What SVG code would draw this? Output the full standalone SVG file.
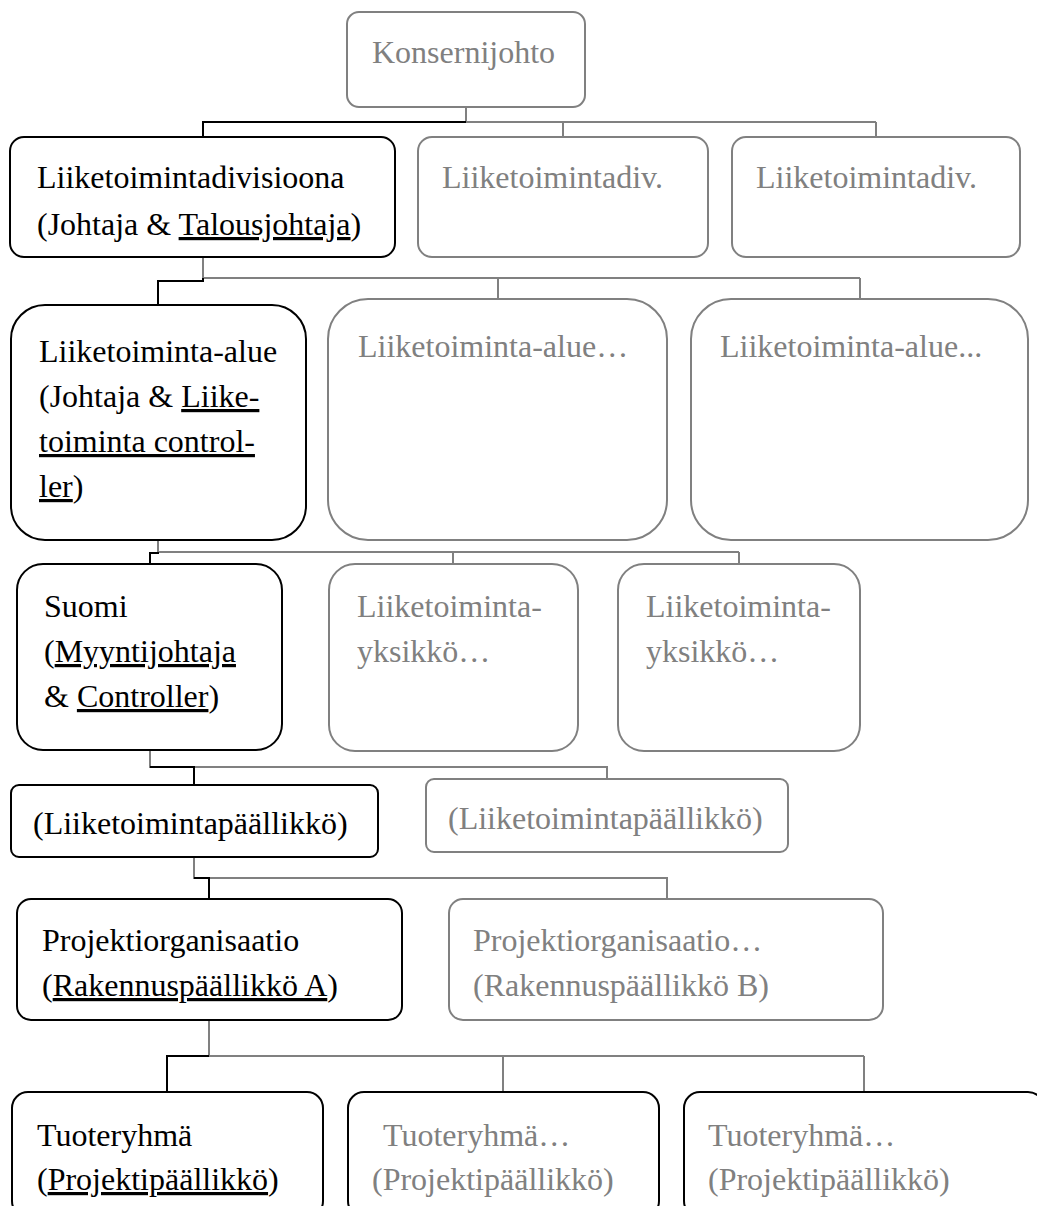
<svg xmlns="http://www.w3.org/2000/svg" width="1037" height="1206" viewBox="0 0 1037 1206">
  <style>
    .on { fill: #ffffff; stroke: #000000; stroke-width: 2; }
    .off { fill: #ffffff; stroke: #808080; stroke-width: 2; }
    .t-on { fill: #000000; }
    .t-off { fill: #808080; }
    .u { text-decoration: underline; }
    .bus { fill: none; stroke: #808080; stroke-width: 2; }
    .path { fill: none; stroke: #000000; stroke-width: 2; }
  </style>

  <rect width="1037" height="1206" fill="#ffffff"/>

  <!-- connectors: grey buses first, highlighted chain on top -->
  <g id="connectors">
    <path class="bus" d="M466,107 V122 H876 M563,122 V137 M876,122 V137"/>
    <path class="path" d="M466,122 H203 V137"/>

    <path class="bus" d="M203,257 V278 H860 M498,278 V299 M860,278 V299"/>
    <path class="path" d="M203,278 V281 H158 V305"/>

    <path class="bus" d="M158,540 V552 H739 M453,552 V564 M739,552 V564"/>
    <path class="path" d="M158,552 V553 H150 V564"/>

    <path class="bus" d="M150,750 V767 H607 V779"/>
    <path class="path" d="M150,767 H194 V785"/>

    <path class="bus" d="M194,857 V878 H667 V899"/>
    <path class="path" d="M194,878 H209 V899"/>

    <path class="bus" d="M209,1020 V1056 H864 M503,1056 V1092 M864,1056 V1092"/>
    <path class="path" d="M209,1056 H167 V1092"/>
  </g>

  <g font-family="'Liberation Serif', serif" font-size="32">
  <!-- level 1 -->
  <g id="konsernijohto">
    <rect class="off" x="347" y="12" width="238" height="95" rx="12"/>
    <text class="t-off" x="372" y="63">Konsernijohto</text>
  </g>

  <!-- level 2 -->
  <g id="divisioona">
    <rect class="on" x="10" y="137" width="385" height="120" rx="14"/>
    <text class="t-on" x="37" y="188">Liiketoimintadivisioona</text>
    <text class="t-on" x="37" y="235">(Johtaja &amp; <tspan class="u">Talousjohtaja</tspan>)</text>
  </g>
  <g id="div-2">
    <rect class="off" x="418" y="137" width="290" height="120" rx="14"/>
    <text class="t-off" x="442" y="188">Liiketoimintadiv.</text>
  </g>
  <g id="div-3">
    <rect class="off" x="732" y="137" width="288" height="120" rx="14"/>
    <text class="t-off" x="756" y="188">Liiketoimintadiv.</text>
  </g>

  <!-- level 3 -->
  <g id="alue">
    <rect class="on" x="11" y="305" width="295" height="235" rx="34"/>
    <text class="t-on" x="39" y="362">Liiketoiminta-alue</text>
    <text class="t-on" x="39" y="407">(Johtaja &amp; <tspan class="u">Liike-</tspan></text>
    <text class="t-on" x="39" y="452"><tspan class="u">toiminta control-</tspan></text>
    <text class="t-on" x="39" y="497"><tspan class="u">ler</tspan>)</text>
  </g>
  <g id="alue-2">
    <rect class="off" x="328" y="299" width="339" height="241" rx="40"/>
    <text class="t-off" x="358" y="357">Liiketoiminta-alue…</text>
  </g>
  <g id="alue-3">
    <rect class="off" x="691" y="299" width="337" height="241" rx="40"/>
    <text class="t-off" x="720" y="357">Liiketoiminta-alue...</text>
  </g>

  <!-- level 4 -->
  <g id="suomi">
    <rect class="on" x="17" y="564" width="265" height="186" rx="26"/>
    <text class="t-on" x="44" y="617">Suomi</text>
    <text class="t-on" x="44" y="662">(<tspan class="u">Myyntijohtaja</tspan></text>
    <text class="t-on" x="44" y="707">&amp; <tspan class="u">Controller</tspan>)</text>
  </g>
  <g id="yksikko-1">
    <rect class="off" x="329" y="564" width="249" height="187" rx="26"/>
    <text class="t-off" x="357" y="617">Liiketoiminta-</text>
    <text class="t-off" x="357" y="662">yksikkö…</text>
  </g>
  <g id="yksikko-2">
    <rect class="off" x="618" y="564" width="242" height="187" rx="26"/>
    <text class="t-off" x="646" y="617">Liiketoiminta-</text>
    <text class="t-off" x="646" y="662">yksikkö…</text>
  </g>

  <!-- level 5 -->
  <g id="paallikko">
    <rect class="on" x="11" y="785" width="367" height="72" rx="8"/>
    <text class="t-on" x="33" y="834">(Liiketoimintapäällikkö)</text>
  </g>
  <g id="paallikko-2">
    <rect class="off" x="426" y="779" width="362" height="73" rx="8"/>
    <text class="t-off" x="448" y="829">(Liiketoimintapäällikkö)</text>
  </g>

  <!-- level 6 -->
  <g id="projekti-a">
    <rect class="on" x="17" y="899" width="385" height="121" rx="14"/>
    <text class="t-on" x="42" y="951">Projektiorganisaatio</text>
    <text class="t-on" x="42" y="996">(<tspan class="u">Rakennuspäällikkö A</tspan>)</text>
  </g>
  <g id="projekti-b">
    <rect class="off" x="449" y="899" width="434" height="121" rx="14"/>
    <text class="t-off" x="473" y="951">Projektiorganisaatio…</text>
    <text class="t-off" x="473" y="996">(Rakennuspäällikkö B)</text>
  </g>

  <!-- level 7 -->
  <g id="tuoteryhma-1">
    <rect class="on" x="12" y="1092" width="311" height="125" rx="16"/>
    <text class="t-on" x="37" y="1146">Tuoteryhmä</text>
    <text class="t-on" x="37" y="1190">(<tspan class="u">Projektipäällikkö</tspan>)</text>
  </g>
  <g id="tuoteryhma-2">
    <rect class="on" x="348" y="1092" width="311" height="125" rx="16"/>
    <text class="t-off" x="383" y="1146">Tuoteryhmä…</text>
    <text class="t-off" x="372" y="1190">(Projektipäällikkö)</text>
  </g>
  <g id="tuoteryhma-3">
    <rect class="on" x="684" y="1092" width="360" height="125" rx="16"/>
    <text class="t-off" x="708" y="1146">Tuoteryhmä…</text>
    <text class="t-off" x="708" y="1190">(Projektipäällikkö)</text>
  </g>
  </g>
</svg>
